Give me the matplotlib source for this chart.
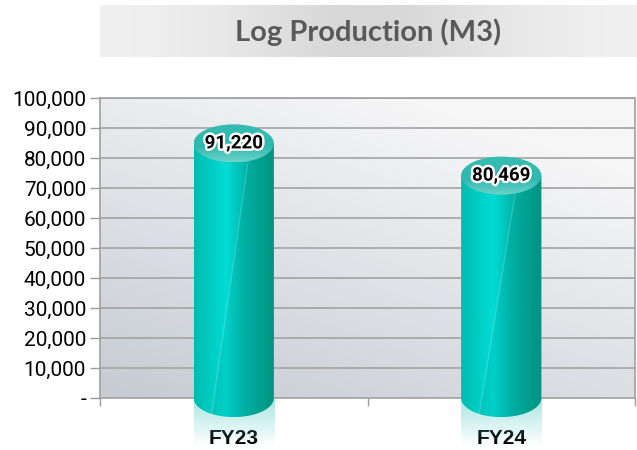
import matplotlib
matplotlib.use("Agg")
import matplotlib.pyplot as plt
import matplotlib.patheffects as pe
from matplotlib.colors import LinearSegmentedColormap, to_rgb
from matplotlib.patches import Ellipse, PathPatch
from matplotlib.path import Path
import numpy as np

# data
categories = ["FY23", "FY24"]
production = [91220, 80469]
yticks = list(range(0, 100001, 10000))
ytick_labels = ["-" if v == 0 else f"{v:,}" for v in yticks]
title = "Log Production (M3)"

fig = plt.figure(figsize=(6.37, 4.5), dpi=100)
fig.patch.set_facecolor("white")

# title banner with a soft gray gradient
banner = fig.add_axes([100 / 637, 1 - 57 / 450, 537 / 637, 52 / 450])
banner.set_axis_off()
xs = np.linspace(-1, 1, 256)
shade = 1 - 0.85 * np.exp(-(xs / 0.55) ** 2)
bcol = np.array(to_rgb("#d3d3d3")) + np.outer(shade, np.array(to_rgb("#f1f1f1")) - np.array(to_rgb("#d3d3d3")))
banner.imshow(bcol[np.newaxis, :, :], extent=[0, 1, 0, 1], aspect="auto")
banner.set_xlim(0, 1)
banner.set_ylim(0, 1)
banner.text(0.5, 0.48, title, ha="center", va="center", fontsize=21,
            fontweight="bold", color="#595959", family=["Lato", "DejaVu Sans"])

ax = fig.add_axes([100 / 637, 52 / 450, 535 / 637, 300 / 450])
xmin, xmax = -0.5, len(categories) - 0.5
ymax = 100000

# plot area background: light at top right, darker at bottom left
gx, gy = np.meshgrid(np.linspace(0, 1, 200), np.linspace(1, 0, 200))
t = np.clip(0.45 * gx + 0.75 * gy, 0, 1)
c0 = np.array(to_rgb("#c6cbd3"))
c1 = np.array(to_rgb("#f6f6f7"))
bg = c0 + t[..., None] * (c1 - c0)
ax.imshow(bg, extent=[xmin, xmax, 0, ymax], aspect="auto", zorder=0)

for v in yticks[1:]:
    ax.axhline(v, color="#a3a3a3", lw=1.2, zorder=1)

# cylinder pieces
bw = 0.3
eh = 12700  # full height of the end ellipses in data units
body_cmap = LinearSegmentedColormap.from_list(
    "body", [(0, "#00bcae"), (0.4, "#00dcd6"), (0.62, "#00b8ac"), (1, "#009784")])
top_cmap = LinearSegmentedColormap.from_list(
    "top", [(0, "#36bdb3"), (0.6, "#2fb9ae"), (1, "#6fd3cb")])
grad = np.linspace(0, 1, 256)[np.newaxis, :]

for i, val in enumerate(production):
    left, right = i - bw / 2, i + bw / 2
    yc = val - eh / 2
    th = np.linspace(np.pi, 2 * np.pi, 60)
    bottom_x = i + bw / 2 * np.cos(th)
    bottom_y = eh / 2 * np.sin(th)
    verts = [(left, yc)] + list(zip(bottom_x, bottom_y)) + [(right, yc), (left, yc)]
    body = PathPatch(Path(verts), facecolor="none", edgecolor="none")
    ax.add_patch(body)
    body.set_clip_on(False)

    # faint reflection under the axis
    refl = np.zeros((100, 2, 4))
    refl[..., :3] = np.array(to_rgb("#6fd4cc"))
    refl[..., 3] = np.linspace(0.6, 0.0, 100)[:, None]
    im_r = ax.imshow(refl, extent=[left, right, -16000, 0], aspect="auto", zorder=2)
    im_r.set_clip_on(False)

    im = ax.imshow(grad, cmap=body_cmap, extent=[left, right, -eh / 2, yc],
                   aspect="auto", zorder=3)
    im.set_clip_box(fig.bbox)
    im.set_clip_path(body)

    # subtle diagonal sheen
    sheen = Path([(i - bw * 0.28, -eh / 2), (i + bw * 0.21, yc), (right, yc),
                  (right, -eh / 2), (i - bw * 0.28, -eh / 2)])
    sp = PathPatch(sheen, facecolor="#006a5c", alpha=0.10, edgecolor="none", zorder=4)
    ax.add_patch(sp)
    sp.set_clip_box(fig.bbox)
    sp.set_clip_path(body)
    ln, = ax.plot([i - bw * 0.28, i + bw * 0.21], [-eh / 2, yc], color="white", lw=1,
                  alpha=0.18, zorder=4)
    ln.set_clip_box(fig.bbox)
    ln.set_clip_path(body)

    top = Ellipse((i, yc), bw, eh, facecolor="none", edgecolor="none")
    ax.add_patch(top)
    im_t = ax.imshow(np.linspace(0, 1, 256)[:, np.newaxis], cmap=top_cmap,
                     extent=[left, right, val - eh, val], aspect="auto", origin="upper",
                     zorder=5)
    im_t.set_clip_box(fig.bbox)
    im_t.set_clip_path(top)

    ax.text(i, yc, f"{val:,}", ha="center", va="center", fontsize=13.5,
            fontweight="bold", color="black", family=["Roboto", "DejaVu Sans"], zorder=6,
            path_effects=[pe.withStroke(linewidth=3.5, foreground="white")])

ax.set_xlim(xmin, xmax)
ax.set_ylim(0, ymax)
ax.set_yticks(yticks)
ax.set_yticklabels(ytick_labels, fontsize=15, family=["Roboto", "DejaVu Sans"])
ax.set_xticks(np.arange(xmin, xmax + 0.01, 1.0))
ax.set_xticklabels([])
ax.set_xticks(range(len(categories)), minor=True)
ax.set_xticklabels(categories, minor=True, fontsize=15, fontweight="bold",
                   family=["Liberation Sans", "DejaVu Sans"])
ax.tick_params(axis="x", which="minor", length=0, pad=22)
ax.tick_params(axis="x", which="major", length=6, color="#9a9a9a", width=1)
ax.tick_params(axis="y", length=7, color="#9a9a9a", width=1, pad=3)
for s in ax.spines.values():
    s.set_color("#a0a0a0")
    s.set_linewidth(1.2)
    s.set_zorder(1.5)

fig.savefig("out.png", dpi=100)
